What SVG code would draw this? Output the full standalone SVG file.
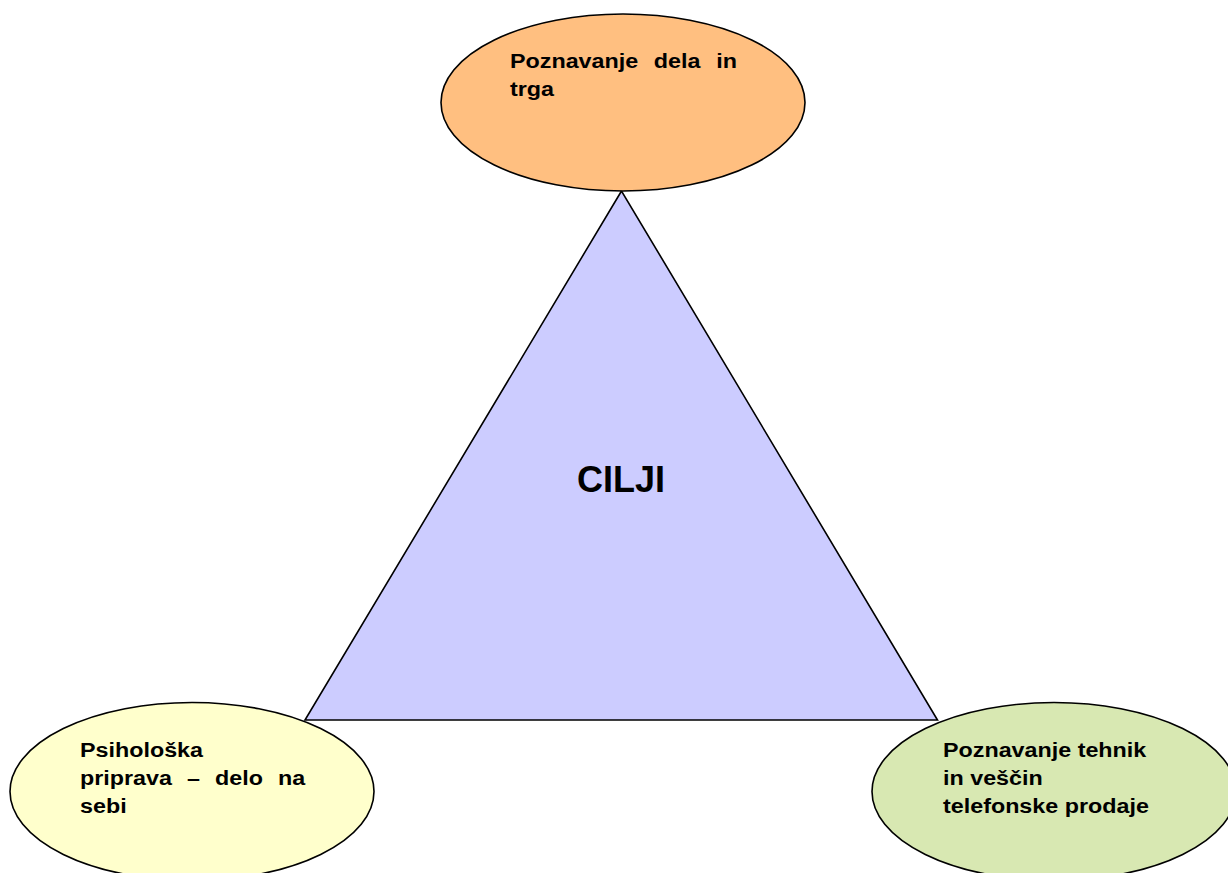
<svg xmlns="http://www.w3.org/2000/svg" width="1228" height="873" viewBox="0 0 1228 873">
  <style>
    .shape { stroke: #000000; stroke-width: 1.6; }
    .lbl { font-family: "Liberation Sans", Arial, sans-serif; font-weight: bold; font-size: 21px; fill: #000000; }
    .title { font-family: "Liberation Sans", Arial, sans-serif; font-weight: bold; font-size: 36px; fill: #000000; }
  </style>
  <rect x="0" y="0" width="1228" height="873" fill="#FFFFFF"/>
  <g id="triangle-cilji">
    <polygon class="shape" points="621.5,191 305,720 937.5,720" fill="#CCCCFF"/>
    <text class="title" x="621" y="492" text-anchor="middle">CILJI</text>
  </g>
  <g id="node-top">
    <ellipse class="shape" cx="623" cy="102.5" rx="182" ry="88.5" fill="#FFBF80"/>
    <text class="lbl" transform="translate(510,68) scale(1.11,1)"><tspan x="0">Poznavanje</tspan><tspan x="129.6">dela</tspan><tspan x="185.9">in</tspan></text>
    <text class="lbl" transform="translate(510,96) scale(1.11,1)">trga</text>
  </g>
  <g id="node-left">
    <ellipse class="shape" cx="192" cy="791.5" rx="182" ry="89" fill="#FFFFCC"/>
    <text class="lbl" transform="translate(80,757) scale(1.11,1)">Psihološka</text>
    <text class="lbl" transform="translate(80,785) scale(1.11,1)"><tspan x="0">priprava</tspan><tspan x="96.4">–</tspan><tspan x="121.6">delo</tspan><tspan x="178.3">na</tspan></text>
    <text class="lbl" transform="translate(80,813) scale(1.11,1)">sebi</text>
  </g>
  <g id="node-right">
    <ellipse class="shape" cx="1054" cy="791.5" rx="182" ry="89" fill="#D8E8B2"/>
    <text class="lbl" transform="translate(943,757) scale(1.11,1)">Poznavanje tehnik</text>
    <text class="lbl" transform="translate(943,785) scale(1.11,1)">in veščin</text>
    <text class="lbl" transform="translate(943,813) scale(1.11,1)">telefonske prodaje</text>
  </g>
  <g id="connectors"/>
</svg>
